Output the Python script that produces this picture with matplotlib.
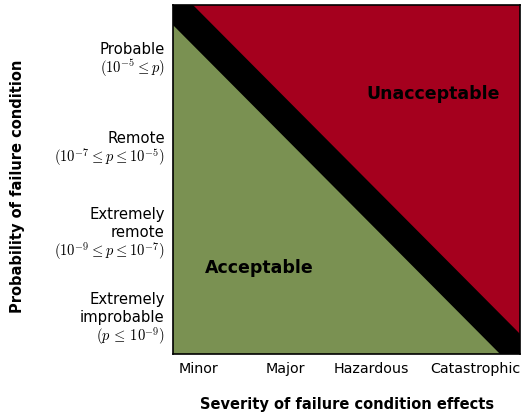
import numpy as np
import matplotlib.pyplot as plt
from matplotlib.patches import Polygon

plt.rcParams['mathtext.fontset'] = 'cm'

# severity categories and their positions along x (0..4 scale)
severity = ["Minor", "Major", "Hazardous", "Catastrophic"]
sev_pos = [0.29, 1.30, 2.29, 3.48]

# probability categories (name lines + range) and positions along y
prob_names = ["Probable", "Remote", "Extremely\nremote", "Extremely\nimprobable"]
prob_ranges = [r"$(10^{-5} \leq p)$",
               r"$(10^{-7} \leq p \leq 10^{-5})$",
               r"$(10^{-9} \leq p \leq 10^{-7})$",
               r"$(p\, \leq\, 10^{-9})$"]
prob_pos = [3.27, 2.26, 1.18, 0.20]

# boundaries of the two regions (x + y = const)
accept_limit = 3.77
unaccept_limit = 4.23

fig = plt.figure(figsize=(5.23, 4.18), dpi=100)
ax = fig.add_axes([173/523, 64/418, 347/523, 349/418])
ax.set_xlim(0, 4)
ax.set_ylim(0, 4)
ax.set_facecolor("black")

green = Polygon([(0, 0), (0, accept_limit), (accept_limit, 0)], closed=True,
                facecolor="#7A9152", edgecolor="none")
red = Polygon([(4, 4), (unaccept_limit - 4, 4), (4, unaccept_limit - 4)], closed=True,
              facecolor="#A5001E", edgecolor="none")
ax.add_patch(green)
ax.add_patch(red)

ax.text(1.0, 0.98, "Acceptable", fontsize=12.5, fontweight="bold", ha="center", va="center")
ax.text(3.0, 2.98, "Unacceptable", fontsize=12.5, fontweight="bold", ha="center", va="center")

ax.set_xticks(sev_pos)
ax.set_xticklabels(severity, fontsize=10.3)
ax.set_yticks([])
ax.tick_params(axis="x", length=0, pad=6)

for name, rng, y in zip(prob_names, prob_ranges, prob_pos):
    ax.annotate(rng, (0, y), xytext=(-6, 0), textcoords="offset points",
                fontsize=10.5, ha="right", va="center", annotation_clip=False)
    lines = name.split("\n")
    for k, line in enumerate(reversed(lines)):
        ax.annotate(line, (0, y), xytext=(-6, 13.5 + 13 * k), textcoords="offset points",
                    fontsize=10.7, ha="right", va="center", annotation_clip=False)

for s in ax.spines.values():
    s.set_linewidth(1.2)

fig.text(347/523, 1 - 405/418, "Severity of failure condition effects",
         fontsize=10.5, fontweight="bold", ha="center", va="center")
fig.text(18/523, 1 - 186/418, "Probability of failure condition",
         fontsize=10.5, fontweight="bold", ha="center", va="center", rotation=90)

fig.savefig("out.png", dpi=100)
